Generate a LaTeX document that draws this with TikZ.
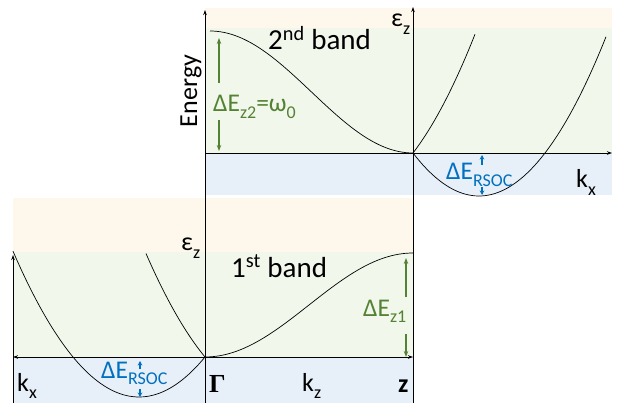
\documentclass[tikz,border=0pt]{standalone}
\usepackage{fontspec}
\setmainfont{Carlito}
\newfontfamily\serifbf{Liberation Serif}
\usetikzlibrary{arrows.meta}
\definecolor{bandorange}{HTML}{FEF8EC}
\definecolor{bandgreen}{HTML}{F2F7EC}
\definecolor{bandblue}{HTML}{E7EFF8}
\definecolor{dgreen}{HTML}{548235}
\definecolor{dblue}{HTML}{0070C0}
\newcommand\dsub[1]{\raisebox{-0.27em}{\fontsize{18}{19}\selectfont #1}}
\begin{document}
\begin{tikzpicture}[x=1pt,y=-1pt,
  axis/.style={line width=0.8pt,-{Stealth[length=5pt,width=3.5pt]}},
  curve/.style={line width=0.7pt},
  garrow/.style={dgreen,line width=1.1pt,-{Stealth[length=6pt,width=4.5pt]}},
  barrow/.style={dblue,line width=1.1pt,-{Stealth[length=4.5pt,width=4.5pt]}},
  bandlbl/.style={font=\fontsize{29}{31}\selectfont,anchor=base west,inner sep=0pt},
  axlbl/.style={font=\fontsize{26}{28}\selectfont,anchor=base west,inner sep=0pt},
  glbl/.style={dgreen,font=\fontsize{25.5}{27}\selectfont,anchor=base west,inner sep=0pt},
  blbl/.style={dblue,font=\fontsize{25.5}{27}\selectfont,anchor=base west,inner sep=0pt}]
\useasboundingbox (0,0) rectangle (618,403);
% background bands
\fill[bandorange] (205,8) rectangle (612,28);
\fill[bandgreen] (205,28) rectangle (612,153);
\fill[bandblue] (205,153) rectangle (612,195);
\fill[bandorange] (13,198) rectangle (413,252);
\fill[bandgreen] (13,252) rectangle (413,357);
\fill[bandblue] (13,357) rectangle (413,403);
% coordinates
\coordinate (O1) at (413,153);
\coordinate (G) at (205,357);
% axes
\draw[axis] (205,403) -- (205,10);
\draw[axis] (413,403) -- (413,7);
\draw[axis] (205,153) -- (612,153);
\draw[axis] (G) -- (13,357);
\draw[axis] (G) -- (413,357);
\draw[axis] (13,403) -- (13,255);
% band curves
\draw[curve] plot[domain=0:1,samples=60,variable=\t] ({210+203*\t},{31+122*(1-cos(180*\t))/2});
\draw[curve] plot[domain=0:1,samples=60,variable=\t] ({205+208*\t},{357-104*(1-cos(180*\t))/2});
% top right parabolas
\draw[curve] plot[domain=413:606,samples=60] (\x,{196-43*((\x-479)/66)^2});
\draw[curve] plot[domain=413:475,samples=40] (\x,{196-43*((\x-347)/66)^2});
% lower left parabolas
\draw[curve] plot[domain=13:205,samples=60] (\x,{397-40*((\x-139)/66)^2});
\draw[curve] plot[domain=146:205,samples=40] (\x,{397-40*((\x-271)/66)^2});
% labels
\node[font=\fontsize{26}{28}\selectfont,rotate=90,anchor=base] (energy) at (197,91) {Energy};
\node[bandlbl] (b2) at (268,50) {2\textsuperscript{nd} band};
\node[bandlbl] (b1) at (231,277) {1\textsuperscript{st} band};
\node[axlbl] (ez1) at (391,27) {ε\dsub{z}};
\node[axlbl] (ez2) at (181,251) {ε\dsub{z}};
\node[axlbl] (kx1) at (576,188) {k\dsub{x}};
\node[axlbl] (kx2) at (17,391) {k\dsub{x}};
\node[axlbl] (kz) at (302,391) {k\dsub{z}};
\node[font=\fontsize{26}{28}\selectfont\serifbf\bfseries,anchor=base west,inner sep=0pt] (gam) at (209,392) {Γ};
\node[font=\fontsize{26}{28}\selectfont\bfseries,anchor=base west,inner sep=0pt] (zz) at (398,392) {z};
% green arrows
\node[glbl] (dez2) at (213,112) {ΔE\dsub{z2}=ω\dsub{0}};
\draw[garrow] (219,83) -- (219,38);
\draw[garrow] (219,120) -- (219,151);
\node[glbl] (dez1) at (363,316) {ΔE\dsub{z1}};
\draw[garrow] (406,297) -- (406,258);
\draw[garrow] (406,334) -- (406,357);
% blue RSOC
\node[blbl] (rs1) at (101,378) {ΔE\dsub{RSOC}};
\draw[barrow] (140,369) -- (140,361);
\draw[barrow] (140,389) -- (140,397);
\node[blbl] (rs2) at (446,180) {ΔE\dsub{RSOC}};
\draw[barrow] (482,165) -- (482,155);
\draw[barrow] (482,187) -- (482,195);
\end{tikzpicture}
\end{document}
